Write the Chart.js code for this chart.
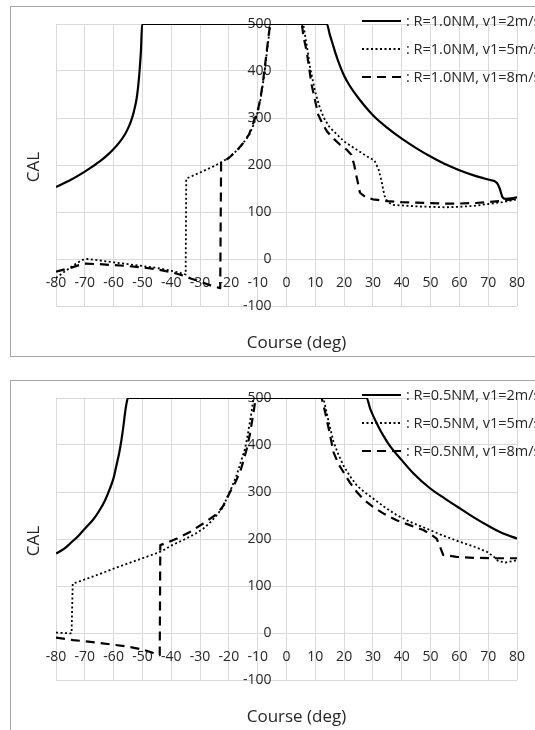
<!DOCTYPE html>
<html>
<head>
<meta charset="utf-8">
<script src="https://cdn.jsdelivr.net/npm/chart.js@4.4.1/dist/chart.umd.min.js"></script>
<style>
  body { margin: 0; width: 535px; height: 730px; overflow: hidden; background: #fff; }
  .box { position: absolute; left: 10px; width: 570px; height: 349px; border: 1px solid #a6a6a6; }
  canvas { display: block; }
</style>
</head>
<body>
<div class="box" style="top:6px"><canvas id="chartTop" width="570" height="349"></canvas></div>
<div class="box" style="top:380px"><canvas id="chartBottom" width="570" height="349"></canvas></div>
<script>
// R = 1.0 NM
const r10v2Deg = [-80, -75, -70, -67, -64.7, -62, -60, -58, -56, -55, -54, -53, -52, -51.5, -51, -50.5, -50.1, 14, 15, 16, 17, 18, 20, 22, 25, 30, 35, 40, 45, 50, 55, 60, 65, 70, 73, 74, 75, 76, 80];
const r10v2Cal = [153, 168, 186, 198, 208, 222, 234, 248, 266, 278, 293, 313, 342, 366, 400, 445, 500, 500, 478, 458, 438, 420, 390, 368, 342, 306, 279, 256, 236, 218, 202, 189, 178, 169, 162, 150, 131, 128, 131];

const r10v5Deg = [-80, -75, -71, -69, -65, -60, -55, -50, -45, -40, -36, -35, -34.8, -30, -25, -22, -20, -17, -15, -13, -11.5, -10.3, -9, -8, -7, -6.2, -5.6, 5.8, 7, 8.2, 9.9, 11.6, 13, 15, 17.5, 20, 25, 28, 30.5, 32, 33, 34, 35, 37, 40, 45, 50, 55, 60, 65, 70, 75, 80];
const r10v5Cal = [-40, -18, -2, 0, -3, -7, -11, -15, -19, -25, -31, -33, 171, 184, 198, 208, 216, 232, 247, 263, 285, 305, 340, 380, 430, 470, 500, 500, 456, 407, 357, 321, 300, 280, 265, 250, 230, 218, 210, 190, 165, 135, 122, 115, 114, 112, 111, 110, 111, 113, 117, 121, 127];

const r10v8Deg = [-80, -75, -72, -70, -65, -60, -55, -50, -45, -40, -36, -33, -30, -26, -23, -22.7, -20, -17, -15, -13, -11.5, -10, -9, -8, -7, -6.3, -5.7, 5.3, 6, 7, 8.7, 10, 11, 12.5, 14, 16, 18.6, 21, 22.5, 23.5, 24.5, 25.5, 27.5, 30, 35, 40, 45, 50, 55, 60, 65, 70, 75, 80];
const r10v8Cal = [-27, -19, -13, -10, -11, -13, -15, -18, -22, -28, -35, -42, -48, -57, -62, 205, 215, 232, 247, 265, 290, 315, 343, 385, 435, 470, 500, 500, 470, 442, 371, 335, 307, 288, 272, 258, 243, 232, 222, 200, 170, 141, 131, 127, 123, 121, 120, 119, 118, 118, 119, 121, 124, 129];

// R = 0.5 NM
const r05v2Deg = [-80, -77, -75, -72, -70, -67, -65, -63, -61.3, -60, -59, -58, -57.2, -56.5, -56, -55.3, -55, 27.8, 29, 30.1, 32, 33.6, 36, 39.4, 44, 49.8, 55, 60.2, 65, 70.6, 75, 80];
const r05v2Cal = [169, 180, 191, 208, 222, 242, 260, 282, 307, 330, 357, 385, 414, 445, 470, 495, 500, 500, 478, 462, 438, 420, 397, 372, 340, 308, 286, 265, 246, 226, 212, 201];

const r05v5Deg = [-80, -74.6, -74.2, -70, -65, -60, -55, -50, -45, -43.3, -40, -35.8, -32, -28.9, -26, -24.2, -22, -20.8, -19, -17.3, -15.8, -14.4, -13.5, -12.7, -12, -11.5, -11.3, 12.8, 13.9, 15, 16.3, 18, 19.7, 22, 24.4, 27, 30.1, 34, 38.2, 43, 48.7, 54, 60.2, 65, 69.5, 72, 73.5, 76, 80];
const r05v5Cal = [1, -1, 105, 114, 125, 137, 148, 159, 170, 174, 186, 198, 210, 222, 238, 251, 268, 286, 310, 336, 365, 392, 420, 449, 475, 498, 500, 500, 470, 440, 407, 380, 357, 334, 314, 300, 286, 268, 251, 236, 222, 208, 194, 184, 173, 162, 153, 150, 155];

const r05v8Deg = [-80, -74, -65, -60, -55, -50, -46.5, -44, -43.8, -41.6, -38, -33.5, -28.9, -24.2, -22, -19.6, -17.8, -16.1, -15, -13.8, -12.8, -12, -11.3, -10.9, -10.7, 12.2, 13.4, 15, 16.3, 18, 19.7, 22, 24.4, 27, 30.1, 34, 38.2, 43, 47.5, 50, 52.1, 53.5, 54.4, 59, 65, 71.8, 80];
const r05v8Cal = [-10, -15, -21, -25, -29, -35, -42, -47, 187, 192, 201, 215, 233, 253, 270, 300, 320, 343, 365, 392, 420, 449, 475, 492, 500, 500, 470, 425, 385, 360, 343, 320, 300, 283, 268, 253, 240, 229, 219, 210, 201, 180, 166, 162, 160, 159, 159];

const labelsTop = [': R=1.0NM, v1=2m/s', ': R=1.0NM, v1=5m/s', ': R=1.0NM, v1=8m/s'];
const labelsBottom = [': R=0.5NM, v1=2m/s', ': R=0.5NM, v1=5m/s', ': R=0.5NM, v1=8m/s'];

const FONT = "'Open Sans', 'Noto Sans', sans-serif";
const TEXT = '#262626';
const GRID = '#d9d9d9';

// solid, dotted, dashed; only the solid curves get smoothed
const lineStyles = [
  { borderWidth: 2.2, borderDash: [], smooth: true },
  { borderWidth: 1.8, borderDash: [2, 2.5], smooth: false },
  { borderWidth: 2.2, borderDash: [9, 6], smooth: false }
];

function toPoints(xs, ys) {
  return xs.map((x, i) => ({ x: x, y: ys[i] }));
}

// legend and axis titles drawn on top of the chart area
const decorPlugin = {
  id: 'decor',
  afterDraw(chart) {
    const ctx = chart.ctx;
    const a = chart.chartArea;
    ctx.save();
    ctx.fillStyle = TEXT;
    ctx.textBaseline = 'middle';

    // legend
    const rows = [-3, 25, 53];
    ctx.font = '14.5px ' + FONT;
    ctx.textAlign = 'left';
    chart.data.datasets.forEach((ds, i) => {
      const y = a.top + rows[i];
      ctx.beginPath();
      ctx.strokeStyle = '#000';
      ctx.lineWidth = ds.borderWidth;
      ctx.setLineDash(ds.borderDash);
      ctx.moveTo(a.left + 306, y);
      ctx.lineTo(a.left + 345, y);
      ctx.stroke();
      ctx.setLineDash([]);
      ctx.fillText(ds.label, a.left + 350, y + 1);
    });

    // axis titles
    ctx.font = '17px ' + FONT;
    ctx.textAlign = 'center';
    ctx.fillText('Course (deg)', (a.left + a.right) / 2 + 10, a.bottom + 37);
    ctx.translate(a.left - 22, (a.top + a.bottom) / 2 + 2);
    ctx.rotate(-Math.PI / 2);
    ctx.fillText('CAL', 0, 0);
    ctx.restore();
  }
};

function makeChart(id, series, labels) {
  const datasets = series.map((s, i) => {
    const ds = {
      label: labels[i],
      data: toPoints(s[0], s[1]),
      borderColor: '#000',
      borderWidth: lineStyles[i].borderWidth,
      borderDash: lineStyles[i].borderDash,
      borderJoinStyle: 'round',
      pointRadius: 0,
      tension: 0,
      fill: false
    };
    if (lineStyles[i].smooth) ds.cubicInterpolationMode = 'monotone';
    return ds;
  });

  new Chart(document.getElementById(id).getContext('2d'), {
    type: 'line',
    data: { datasets: datasets },
    options: {
      responsive: false,
      animation: false,
      layout: { padding: { left: 45, right: 64, top: 17, bottom: 50 } },
      plugins: { legend: { display: false }, tooltip: { enabled: false } },
      scales: {
        x: {
          type: 'linear',
          min: -80,
          max: 80,
          position: { y: 0 },
          border: { display: false },
          grid: { color: GRID, lineWidth: 1, drawTicks: false },
          ticks: {
            stepSize: 10,
            autoSkip: false,
            maxRotation: 0,
            padding: 16,
            color: TEXT,
            font: { family: FONT, size: 14 }
          }
        },
        y: {
          type: 'linear',
          min: -100,
          max: 500,
          position: { x: -5.2 },
          border: { display: false },
          grid: { color: GRID, lineWidth: 1, drawTicks: false },
          ticks: {
            stepSize: 100,
            color: TEXT,
            font: { family: FONT, size: 14 }
          }
        }
      }
    },
    plugins: [decorPlugin]
  });
}

makeChart('chartTop', [[r10v2Deg, r10v2Cal], [r10v5Deg, r10v5Cal], [r10v8Deg, r10v8Cal]], labelsTop);
makeChart('chartBottom', [[r05v2Deg, r05v2Cal], [r05v5Deg, r05v5Cal], [r05v8Deg, r05v8Cal]], labelsBottom);
</script>
</body>
</html>
